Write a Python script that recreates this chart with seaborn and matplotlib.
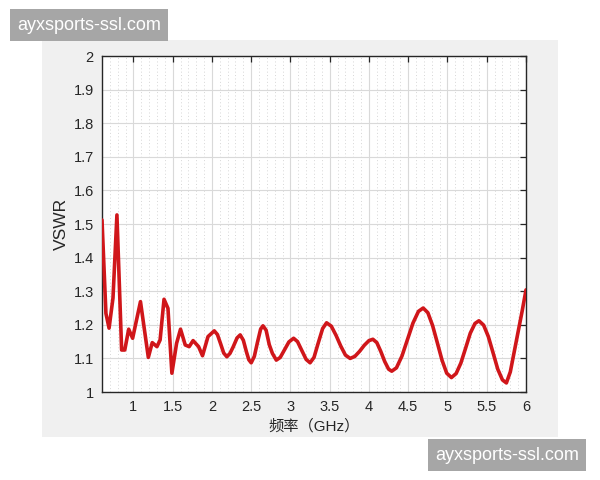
import numpy as np
import pandas as pd
import seaborn as sns
import matplotlib.pyplot as plt
from matplotlib.patches import Rectangle
from matplotlib.ticker import MultipleLocator

# VSWR vs frequency
freq = [0.60, 0.65, 0.69, 0.74, 0.79, 0.85, 0.89, 0.94, 0.99, 1.09,
        1.19, 1.24, 1.30, 1.34, 1.39, 1.44, 1.49, 1.55, 1.60, 1.66,
        1.71, 1.76, 1.83, 1.88, 1.95, 2.03, 2.07, 2.11, 2.15, 2.19,
        2.23, 2.27, 2.32, 2.36, 2.40, 2.44, 2.47, 2.50, 2.54, 2.58,
        2.62, 2.65, 2.69, 2.73, 2.77, 2.82, 2.87, 2.93, 2.98, 3.04,
        3.09, 3.15, 3.20, 3.25, 3.30, 3.35, 3.41, 3.46, 3.52, 3.58,
        3.64, 3.70, 3.76, 3.82, 3.88, 3.94, 4.00, 4.05, 4.10, 4.15,
        4.20, 4.25, 4.29, 4.35, 4.42, 4.49, 4.56, 4.63, 4.69, 4.75,
        4.81, 4.87, 4.93, 4.99, 5.05, 5.11, 5.17, 5.23, 5.29, 5.35,
        5.40, 5.46, 5.52, 5.58, 5.64, 5.70, 5.75, 5.80, 5.85, 5.90,
        5.95, 6.00]
vswr = [1.512, 1.234, 1.190, 1.280, 1.527, 1.125, 1.125, 1.187, 1.160, 1.269,
        1.103, 1.147, 1.135, 1.155, 1.276, 1.249, 1.056, 1.145, 1.187, 1.140,
        1.135, 1.153, 1.135, 1.108, 1.165, 1.182, 1.171, 1.144, 1.116, 1.105,
        1.115, 1.134, 1.161, 1.170, 1.154, 1.119, 1.096, 1.087, 1.106, 1.148,
        1.187, 1.197, 1.184, 1.141, 1.115, 1.095, 1.103, 1.128, 1.149, 1.160,
        1.150, 1.121, 1.097, 1.087, 1.103, 1.143, 1.189, 1.206, 1.196, 1.169,
        1.137, 1.110, 1.100, 1.106, 1.121, 1.139, 1.153, 1.157, 1.147, 1.121,
        1.091, 1.068, 1.062, 1.072, 1.107, 1.156, 1.205, 1.240, 1.250, 1.236,
        1.198, 1.147, 1.095, 1.056, 1.043, 1.055, 1.086, 1.130, 1.175, 1.204,
        1.212, 1.199, 1.165, 1.117, 1.068, 1.036, 1.027, 1.060, 1.120, 1.180,
        1.240, 1.304]

x_ticks = [1, 1.5, 2, 2.5, 3, 3.5, 4, 4.5, 5, 5.5, 6]
x_ticklabels = ['1', '1.5', '2', '2.5', '3', '3.5', '4', '4.5', '5', '5.5', '6']
y_ticks = [1, 1.1, 1.2, 1.3, 1.4, 1.5, 1.6, 1.7, 1.8, 1.9, 2]
y_ticklabels = ['1', '1.1', '1.2', '1.3', '1.4', '1.5', '1.6', '1.7', '1.8', '1.9', '2']

df = pd.DataFrame({'freq': freq, 'vswr': vswr})

sns.set_style('white')
plt.rcParams['font.family'] = ['Liberation Sans', 'Noto Sans CJK SC', 'DejaVu Sans']

fig = plt.figure(figsize=(6, 4.8), dpi=100)
fig.patch.set_facecolor('white')

# gray matlab-like panel behind the axes
fig.patches.append(Rectangle((42/600, 1-437/480), 516/600, 397/480,
                             transform=fig.transFigure, facecolor='#f0f0f0',
                             edgecolor='none', zorder=-5))

ax = fig.add_axes([0.17, 0.1833, 0.7067, 0.70])
ax.set_zorder(2)
ax.set_facecolor('white')

sns.lineplot(data=df, x='freq', y='vswr', ax=ax, color='#d0161a',
             linewidth=2.6, estimator=None, sort=False, zorder=3)

ax.set_xlim(0.6, 6)
ax.set_ylim(1, 2)
ax.set_xticks(x_ticks)
ax.set_xticklabels(x_ticklabels)
ax.set_yticks(y_ticks)
ax.set_yticklabels(y_ticklabels)
ax.xaxis.set_minor_locator(MultipleLocator(0.1))

ax.grid(which='major', color='#d9d9d9', linewidth=0.8, linestyle='-')
ax.grid(which='minor', axis='x', color='#d6d6d6', linewidth=0.7, linestyle=(0, (1, 2.5)))
ax.set_axisbelow(True)

ax.tick_params(which='major', direction='in', length=4, width=0.9,
               top=True, right=True, labelsize=10.5, labelcolor='#262626',
               color='#262626', pad=6)
ax.tick_params(which='minor', length=0)
for s in ax.spines.values():
    s.set_visible(True)
    s.set_color('#262626')
    s.set_linewidth(1.0)

ax.set_xlabel('频率（GHz）', fontsize=11, color='#262626', labelpad=3)
ax.set_ylabel('VSWR', fontsize=12.5, color='#262626', labelpad=3)

# watermarks
wm = dict(facecolor='#a6a6a6', edgecolor='none', boxstyle='square,pad=0.4')
fig.text(17/600, 1-25/480, 'ayxsports-ssl.com', fontsize=13, color='white',
         va='center', ha='left', bbox=wm, zorder=5)
fig.text(435/600, 1-455/480, 'ayxsports-ssl.com', fontsize=13, color='white',
         va='center', ha='left', bbox=wm, zorder=5)

fig.savefig('out.png', dpi=100)
